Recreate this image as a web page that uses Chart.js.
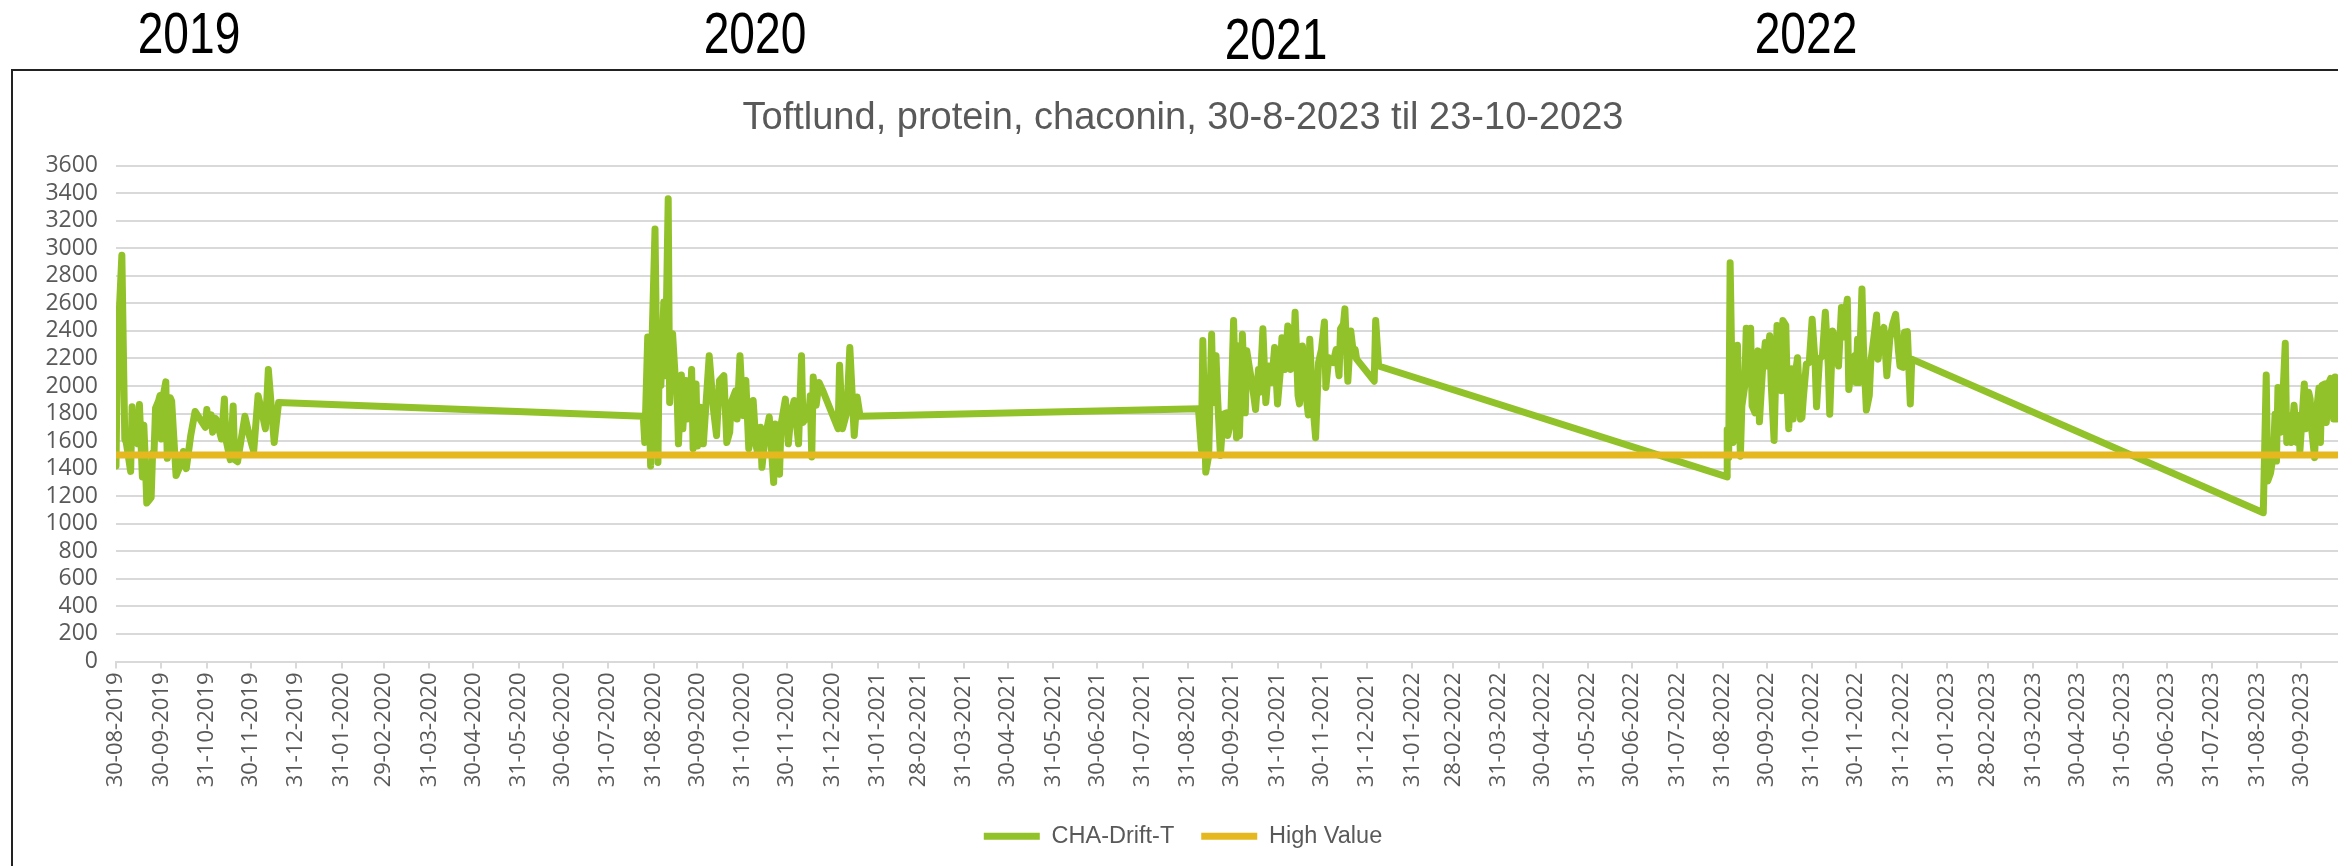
<!DOCTYPE html>
<html lang="da">
<head>
<meta charset="UTF-8" />
<title>Toftlund, protein, chaconin</title>
<script src="https://cdn.jsdelivr.net/npm/chart.js@4.4.0/dist/chart.umd.min.js"></script>
<style>
  html, body { margin: 0; padding: 0; background: #fff; }
  body { width: 2338px; height: 866px; overflow: hidden; position: relative; }
  .year {
    position: absolute; top: 5px;
    font-family: "Liberation Sans", Arial, sans-serif;
    font-size: 57px; line-height: 57px; color: #000;
    transform: translateX(-50%) scaleX(0.81);
  }
  #frame { position: absolute; left: 11px; top: 69px; width: 2360px; height: 820px;
           border: 2px solid #222; box-sizing: border-box; }
  #chart { position: absolute; left: 14px; top: 72px; }
</style>
</head>
<body>
<div class="year" style="left:189px">2019</div>
<div class="year" style="left:755px">2020</div>
<div class="year" style="left:1276px; top:11px">2021</div>
<div class="year" style="left:1806px">2022</div>
<div id="frame"></div>
<canvas id="chart" width="2344" height="810"></canvas>

<script>
// dag 0 = 30-08-2019, alle dage tælles fra den
const baseDate = Date.UTC(2019, 7, 30);

const tickLabels = [
  "30-08-2019", "30-09-2019", "31-10-2019", "30-11-2019", "31-12-2019",
  "31-01-2020", "29-02-2020", "31-03-2020", "30-04-2020", "31-05-2020", "30-06-2020",
  "31-07-2020", "31-08-2020", "30-09-2020", "31-10-2020", "30-11-2020", "31-12-2020",
  "31-01-2021", "28-02-2021", "31-03-2021", "30-04-2021", "31-05-2021", "30-06-2021",
  "31-07-2021", "31-08-2021", "30-09-2021", "31-10-2021", "30-11-2021", "31-12-2021",
  "31-01-2022", "28-02-2022", "31-03-2022", "30-04-2022", "31-05-2022", "30-06-2022",
  "31-07-2022", "31-08-2022", "30-09-2022", "31-10-2022", "30-11-2022", "31-12-2022",
  "31-01-2023", "28-02-2023", "31-03-2023", "30-04-2023", "31-05-2023", "30-06-2023",
  "31-07-2023", "31-08-2023", "30-09-2023"
];

// CHA-Drift-T, sæson for sæson (dage efter 30-08-2019)
const days2019 = [0,1,4,6,7,10,11,12,14,15,16,18,19,20,21,24,25,26,27,29,30,31,32,34,35,37,38,41,44,46,48,51,54,61,62,63,65,66,68,69,72,74,75,78,80,81,83,88,91,94,97,99,102,104,108,111];
const cha2019 = [1420,2250,2950,1615,1590,1380,1850,1590,1715,1580,1865,1340,1715,1465,1150,1190,1515,1525,1840,1890,1930,1615,1915,2030,1475,1915,1890,1350,1425,1525,1400,1640,1815,1700,1830,1715,1790,1665,1765,1740,1615,1905,1615,1465,1855,1465,1450,1780,1640,1525,1930,1840,1690,2120,1590,1880];

const days2020 = [360,361,363,365,366,368,370,371,372,374,375,377,378,380,382,383,384,386,387,389,390,391,392,393,394,396,397,399,401,405,408,410,412,415,417,419,420,423,424,426,428,430,432,435,437,438,440,441,443,446,449,450,453,454,457,459,461,463,466,468,469,473,474,475,476,478,480,483,493,494,496,499,501,504,506,508];
const cha2020 = [1780,1590,2355,1420,2340,3140,1445,2365,2005,2610,2075,3360,1880,2380,2025,1955,1580,2080,1690,2040,1760,2040,1835,2120,1545,2015,1565,1845,1580,2220,1820,1640,2040,2075,1590,1665,1880,1965,1760,2220,1785,2040,1545,1895,1565,1520,1700,1410,1615,1775,1300,1725,1360,1715,1905,1580,1810,1895,1580,2220,1735,1795,1930,1485,2065,1860,2025,1955,1690,2150,1690,1810,2280,1640,1920,1780];

const days2021 = [739,741,742,744,746,748,749,751,752,754,756,758,759,761,763,765,766,767,769,771,772,774,776,778,780,781,783,785,787,789,791,793,795,796,798,800,802,804,805,807,808,810,812,814,815,817,819,821,823,825,826,828,831,833,835,836,838,839,841,843,845,846,847,859,860,862];
const cha2021 = [1835,1540,2330,1375,1495,2375,1880,2220,1930,1495,1795,1805,1640,1735,2475,1625,2290,1640,2375,1805,2255,2120,1990,1830,2120,1955,2415,1880,2145,2025,2280,1870,2120,2350,2120,2435,2120,2245,2535,1930,1870,2290,1975,1790,2340,1880,1625,2170,2265,2465,1990,2205,2170,2265,2075,2415,2450,2560,2035,2400,2220,2265,2195,2035,2475,2145];

const days2022 = [1100,1100,1101,1102,1104,1106,1107,1109,1110,1112,1113,1114,1116,1117,1119,1121,1122,1124,1126,1127,1129,1130,1132,1134,1135,1137,1138,1140,1141,1142,1144,1145,1147,1148,1150,1151,1152,1154,1156,1158,1160,1161,1163,1165,1167,1169,1170,1172,1173,1176,1178,1179,1180,1182,1183,1185,1187,1188,1189,1190,1192,1193,1195,1197,1198,1200,1202,1203,1205,1207,1209,1211,1213,1215,1217,1218,1220,1221,1223,1225,1226];
const cha2022 = [1340,1685,1480,2895,1590,2100,2295,1490,1855,2000,2420,2025,2420,1855,1805,2255,1740,2100,2315,2145,2365,2025,1605,2440,2245,1965,2475,2440,1990,1690,2125,1760,2125,2205,1760,1770,1915,2160,2170,2485,2170,1850,2195,2220,2535,2145,1795,2400,2365,2145,2570,2355,2475,2630,1975,2145,2220,2025,2340,2025,2705,2290,1825,1930,2170,2340,2515,2195,2365,2425,2075,2340,2450,2520,2245,2145,2135,2390,2395,1870,2195];

const days2023 = [1466,1468,1469,1471,1473,1474,1475,1476,1478,1479,1481,1482,1484,1485,1487,1489,1490,1491,1494,1495,1497,1498,1499,1501,1502,1504,1505,1506,1508,1509,1511,1512,1514,1515,1516];
const cha2023 = [1080,2080,1310,1370,1515,1795,1455,1990,1665,1835,2310,1590,1785,1590,1860,1590,1785,1530,2015,1690,1955,1905,1690,1480,1785,1985,1590,2005,2015,1735,2030,2055,1760,2065,1760];

const highValue = 1500;

const days = [].concat(days2019, days2020, days2021, days2022, days2023);
const cha = [].concat(cha2019, cha2020, cha2021, cha2022, cha2023);

const tickDays = tickLabels.map(function (s) {
  const p = s.split("-").map(Number);
  return Math.round((Date.UTC(p[2], p[1] - 1, p[0]) - baseDate) / 86400000);
});
const labelOf = {};
tickDays.forEach(function (d, i) { labelOf[d] = tickLabels[i]; });

const tickFont = { family: '"Open Sans", sans-serif', size: 22 };

new Chart(document.getElementById("chart"), {
  type: "line",
  data: {
    datasets: [
      {
        label: "CHA-Drift-T",
        data: days.map(function (d, i) { return { x: d, y: cha[i] }; }),
        borderColor: "#92c22a",
        backgroundColor: "#92c22a",
        borderWidth: 7,
        borderJoinStyle: "round",
        borderCapStyle: "round",
        pointRadius: 0,
        order: 1
      },
      {
        label: "High Value",
        data: [
          { x: days[0], y: highValue },
          { x: days[days.length - 1], y: highValue }
        ],
        borderColor: "#e6b820",
        backgroundColor: "#e6b820",
        borderWidth: 7,
        borderCapStyle: "round",
        pointRadius: 0,
        order: 0
      }
    ]
  },
  options: {
    responsive: false,
    animation: false,
    layout: { padding: { left: 14, right: 20, top: 0, bottom: 24 } },
    scales: {
      x: {
        type: "linear",
        min: 0,
        max: 1517,
        afterBuildTicks: function (scale) {
          scale.ticks = tickDays.map(function (v) { return { value: v }; });
        },
        afterFit: function (scale) { scale.height = 136; },
        grid: { drawOnChartArea: false, drawTicks: true, tickLength: 7, color: "#d9d9d9", lineWidth: 2 },
        border: { color: "#d9d9d9", width: 2 },
        ticks: {
          autoSkip: false,
          maxRotation: 90,
          minRotation: 90,
          padding: 4,
          color: "#595959",
          font: tickFont,
          callback: function (v) { return labelOf[v] || ""; }
        }
      },
      y: {
        min: 0,
        max: 3600,
        afterFit: function (scale) { scale.width = 88; },
        grid: { color: "#d9d9d9", lineWidth: 2, drawTicks: false },
        border: { display: false },
        ticks: {
          stepSize: 200, autoSkip: false, padding: 18, color: "#595959",
          font: { family: '"Open Sans", sans-serif', size: 23 },
          callback: function (v) { return String(v); }
        }
      }
    },
    plugins: {
      title: {
        display: true,
        text: "Toftlund, protein, chaconin, 30-8-2023 til 23-10-2023",
        color: "#595959",
        font: { family: '"Liberation Sans", Arial, sans-serif', size: 38, weight: "normal" },
        padding: { top: 24, bottom: 24 }
      },
      legend: {
        position: "bottom",
        labels: {
          usePointStyle: true,
          pointStyle: "line",
          pointStyleWidth: 56,
          padding: 27,
          color: "#595959",
          font: { family: '"Liberation Sans", Arial, sans-serif', size: 23.5 },
          sort: function (a, b) { return a.datasetIndex - b.datasetIndex; }
        }
      },
      tooltip: { enabled: false }
    }
  }
});
</script>
</body>
</html>
